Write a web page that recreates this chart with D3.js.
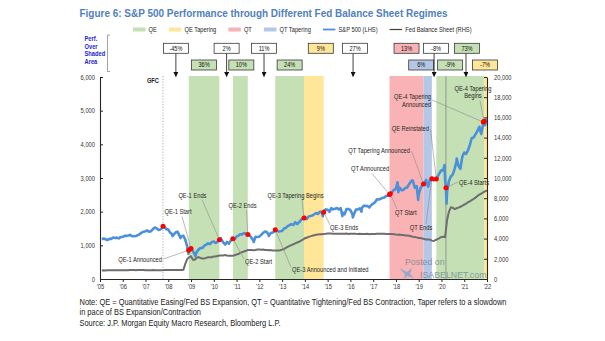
<!DOCTYPE html>
<html>
<head>
<meta charset="utf-8">
<script src="https://cdn.jsdelivr.net/npm/d3@7"></script>
<style>
  html, body { margin: 0; padding: 0; background: #fff; }
  svg { display: block; font-family: "Liberation Sans", Arial, sans-serif; }
</style>
</head>
<body>
<svg id="chart" width="605" height="341"></svg>
<script>
// ---------------- data ----------------
// S&P 500 month-end closes, Jan 2005 – Dec 2021
const spxMonthEnd = [
  1181.27,1203.60,1180.59,1156.85,1191.50,1191.33,1234.18,1220.33,1228.81,1207.01,1249.48,1248.29,
  1280.08,1280.66,1294.83,1310.61,1270.09,1270.20,1276.66,1303.82,1335.85,1377.94,1400.63,1418.30,
  1438.24,1406.82,1420.86,1482.37,1530.62,1503.35,1455.27,1473.99,1526.75,1549.38,1481.14,1468.36,
  1378.55,1330.63,1322.70,1385.59,1400.38,1280.00,1267.38,1282.83,1166.36,968.75,896.24,903.25,
  825.88,735.09,797.87,872.81,919.14,919.32,987.48,1020.62,1057.08,1036.19,1095.63,1115.10,
  1073.87,1104.49,1169.43,1186.69,1089.41,1030.71,1101.60,1049.33,1141.20,1183.26,1180.55,1257.64,
  1286.12,1327.22,1325.83,1363.61,1345.20,1320.64,1292.28,1218.89,1131.42,1253.30,1246.96,1257.60,
  1312.41,1365.68,1408.47,1397.91,1310.33,1362.16,1379.32,1406.58,1440.67,1412.16,1416.18,1426.19,
  1498.11,1514.68,1569.19,1597.57,1630.74,1606.28,1685.73,1632.97,1681.55,1756.54,1805.81,1848.36,
  1782.59,1859.45,1872.34,1883.95,1923.57,1960.23,1930.67,2003.37,1972.29,2018.05,2067.56,2058.90,
  1994.99,2104.50,2067.89,2085.51,2107.39,2063.11,2103.84,1972.18,1920.03,2079.36,2080.41,2043.94,
  1940.24,1932.23,2059.74,2065.30,2096.95,2098.86,2173.60,2170.95,2168.27,2126.15,2198.81,2238.83,
  2278.87,2363.64,2362.72,2384.20,2411.80,2423.41,2470.30,2471.65,2519.36,2575.26,2647.58,2673.61,
  2823.81,2713.83,2640.87,2648.05,2705.27,2718.37,2816.29,2901.52,2913.98,2711.74,2760.17,2506.85,
  2704.10,2784.49,2834.40,2945.83,2752.06,2941.76,2980.38,2926.46,2976.74,3037.56,3140.98,3230.78,
  3225.52,2954.22,2584.59,2912.43,3044.31,3100.29,3271.12,3500.31,3363.00,3269.96,3621.63,3756.07,
  3714.24,3811.15,3972.89,4181.17,4204.11,4297.50,4395.26,4522.68,4307.54,4605.38,4567.00,4766.18
];
// Intra-month closes (peaks, troughs and policy dates)
const spxIntraDates = [
  "2007-10-09","2008-03-10","2008-07-15","2008-11-20","2008-11-25","2009-03-09","2010-04-23","2010-07-02",
  "2010-11-03","2011-10-03","2012-06-01","2012-09-13","2013-12-18","2014-10-15","2014-10-29","2015-08-25",
  "2016-02-11","2016-06-27","2017-09-20","2017-10-02","2018-01-26","2018-02-08","2018-09-20","2018-12-24",
  "2019-03-20","2019-06-03","2019-10-11","2020-02-19","2020-03-13","2020-03-23","2020-09-02","2021-11-03",
  "2021-11-15"
];
const spxIntraValues = [
  1565.15,1273.37,1214.91,752.44,857.39,676.53,1217.28,1022.58,
  1197.96,1099.23,1278.04,1459.99,1810.65,1862.49,1982.30,1867.61,
  1829.08,2000.54,2508.24,2529.12,2872.87,2581.00,2930.75,2351.10,
  2824.23,2744.45,2970.27,3386.15,2711.02,2237.40,3580.84,4660.57,
  4682.80
];
// Fed balance sheet (total assets, $bn), month-end, Jan 2005 – Dec 2021
const fedAssets = [
  849,854,853,858,857,861,860,866,867,868,873,872,
  875,868,876,882,879,879,878,880,880,881,880,874,
  874,876,878,885,877,877,876,875,874,880,885,891,
  888,890,889,889,889,898,903,905,1495,1970,2141,2241,
  1900,1903,2087,2171,2083,2031,2023,2091,2143,2162,2162,2237,
  2230,2279,2324,2339,2337,2367,2330,2310,2292,2304,2347,2423,
  2476,2585,2658,2728,2790,2868,2869,2862,2855,2869,2928,2928,
  2900,2925,2868,2863,2849,2870,2832,2829,2822,2833,2855,2907,
  2970,3077,3188,3282,3361,3440,3528,3617,3687,3802,3891,4033,
  4083,4177,4222,4289,4340,4379,4413,4421,4429,4463,4481,4509,
  4503,4506,4484,4482,4483,4489,4481,4483,4483,4494,4458,4487,
  4491,4489,4470,4467,4478,4458,4464,4464,4476,4442,4454,4451,
  4452,4476,4473,4489,4478,4469,4456,4459,4456,4448,4443,4406,
  4388,4394,4365,4346,4311,4302,4275,4226,4175,4158,4123,4058,
  4048,4004,3962,3923,3920,3903,3799,3761,3862,3951,4054,4166,
  4171,4159,5826,6656,7097,7060,6923,7004,7071,7156,7239,7362,
  7467,7593,7690,7805,7917,8058,8217,8344,8450,8573,8681,8757
];

// Fed balance sheet regimes
const regimeStart = ["2008-11-25","2010-11-03","2012-09-13","2013-12-18","2017-09-20","2019-03-20","2019-10-11","2021-11-15"];
const regimeEnd   = ["2010-03-31","2011-06-30","2013-12-18","2014-10-29","2019-03-20","2019-07-31","2021-11-15","2022-01-01"];
const regimeType  = ["QE","QE","QE","QE Tapering","QT","QT Tapering","QE","QE Tapering"];

// Policy events marked on the S&P 500 line
const eventDates = ["2007-10-09","2008-11-25","2008-12-31","2010-03-31","2010-11-03","2011-06-30","2012-09-13",
  "2013-12-18","2014-10-29","2017-09-20","2017-10-02","2019-03-20","2019-07-31","2019-10-11","2020-03-13",
  "2021-11-03","2021-11-15"];
const eventLabels = ["","QE-1 Announced","QE-1 Start","QE-1 Ends","QE-2 Start","QE-2 Ends",
  "QE-3 Announced and Initiated","QE-3 Tapering Begins","QE-3 Ends","QT Announced","QT Start",
  "QT Tapering Announced","QT Ends","QE Reinstated","QE-4 Starts","QE-4 Tapering|Announced","QE-4 Tapering|Begins"];

// S&P 500 performance over each period
const perfStart = ["2007-10-09","2008-11-25","2010-03-31","2010-11-03","2011-06-30","2012-09-13","2013-12-18",
  "2014-10-29","2017-09-20","2019-03-20","2019-07-31","2019-10-11","2020-03-13","2021-11-15"];
const perfEnd   = ["2008-11-25","2010-03-31","2010-11-03","2011-06-30","2012-09-13","2013-12-18","2014-10-29",
  "2017-09-20","2019-03-20","2019-07-31","2019-10-11","2020-03-13","2021-11-15","2022-01-01"];
const perfText  = ["-45%","36%","2%","10%","11%","24%","9%","27%","13%","6%","-8%","-9%","73%","-7%"];
const perfRegime = ["","QE","","QE","","QE","QE Tapering","","QT","QT Tapering","","QE","QE","QE Tapering"];

const leftTicks = [0,1000,2000,3000,4000,5000,6000];
const rightTicks = [0,2000,4000,6000,8000,10000,12000,14000,16000,18000,20000];
const yearTicks = d3.range(2005, 2023);

// ---------------- layout & style ----------------
const C = {
  "QE": "#c5e0b4", "QE Tapering": "#ffe699", "QT": "#f9b3b4", "QT Tapering": "#b4c7e7",
  spx: "#4a90da", fed: "#6e6e6e", dot: "#ff0000", text: "#262626", leader: "#8c8c8c"
};
const NARROW = 0.82;   // condensed lettering
const parse = d3.timeParse("%Y-%m-%d");
const monthEnd = i => new Date(2005, i + 1, 0);

// squeeze text horizontally to a condensed face
function condense(sel, k) {
  sel.each(function () {
    const w = this.getComputedTextLength();
    this.setAttribute("textLength", (w * k).toFixed(2));
    this.setAttribute("lengthAdjust", "spacingAndGlyphs");
  });
}

const svg = d3.select("#chart");
const x = d3.scaleTime().domain([new Date(2005, 0, 1), new Date(2022, 0, 1)]).range([100, 487]);
const yL = d3.scaleLinear().domain([0, 6000]).range([279, 77]);
const yR = d3.scaleLinear().domain([0, 20000]).range([279, 77]);
const plotTop = yL(6000) - 1, plotBottom = yL(0);

const spx = spxMonthEnd.map((v, i) => ({ date: monthEnd(i), value: v }))
  .concat(spxIntraDates.map((d, i) => ({ date: parse(d), value: spxIntraValues[i] })))
  .sort((a, b) => a.date - b.date);
const fed = fedAssets.map((v, i) => ({ date: monthEnd(i), value: v }));
const spxAt = d => spx.find(p => +p.date === +parse(d)).value;

// ---------------- title ----------------
svg.append("text").attr("x", 79.5).attr("y", 17)
  .attr("font-size", 11.6).attr("font-weight", "bold").attr("fill", "#4f81bd")
  .attr("textLength", 368).attr("lengthAdjust", "spacingAndGlyphs")
  .text("Figure 6: S&P 500 Performance through Different Fed Balance Sheet Regimes");

// ---------------- legend ----------------
const legendItems = [
  { label: "QE", kind: "band", key: "QE" },
  { label: "QE Tapering", kind: "band", key: "QE Tapering" },
  { label: "QT", kind: "band", key: "QT" },
  { label: "QT Tapering", kind: "band", key: "QT Tapering" },
  { label: "S&P 500 (LHS)", kind: "line", color: C.spx },
  { label: "Fed Balance Sheet (RHS)", kind: "line", color: "#404040" }
];
let lx = 133;
const legend = svg.append("g").attr("font-size", 7).attr("fill", C.text);
legendItems.forEach(it => {
  if (it.kind === "band") {
    legend.append("rect").attr("x", lx).attr("y", 27.5).attr("width", 12.5).attr("height", 4).attr("fill", C[it.key]);
  } else {
    legend.append("line").attr("x1", lx).attr("x2", lx + 12.5).attr("y1", 29.5).attr("y2", 29.5)
      .attr("stroke", it.color).attr("stroke-width", it.label.startsWith("S&P") ? 1.8 : 1.2);
  }
  const t = legend.append("text").attr("class", "cn").attr("x", lx + 15.6).attr("y", 32).text(it.label);
  lx += 15.6 + t.node().getComputedTextLength() * NARROW + 12;
});

// ---------------- "Perf. Over Shaded Area" header ----------------
const head = svg.append("g").attr("font-size", 7).attr("font-weight", "bold").attr("fill", "#2525d0");
["Perf.", "Over", "Shaded", "Area"].forEach((w, i) =>
  head.append("text").attr("class", "cn").attr("x", 84.5).attr("y", 40.6 + i * 7.9).text(w));
svg.append("path").attr("d", "M110,35 H107.5 V71.5 H110").attr("fill", "none").attr("stroke", "#8a8a8a").attr("stroke-width", 0.8);

// ---------------- regime bands ----------------
svg.append("g").selectAll("rect").data(regimeType).join("rect")
  .attr("x", (d, i) => x(parse(regimeStart[i])))
  .attr("width", (d, i) => x(parse(regimeEnd[i])) - x(parse(regimeStart[i])))
  .attr("y", plotTop).attr("height", plotBottom - plotTop)
  .attr("fill", d => C[d]);

// GFC marker
const gfcX = x(parse(eventDates[0]));
svg.append("line").attr("x1", gfcX).attr("x2", gfcX).attr("y1", plotTop).attr("y2", plotBottom)
  .attr("stroke", "#9a9a9a").attr("stroke-width", 0.8).attr("stroke-dasharray", "1.2,1.6");
svg.append("text").attr("class", "cn").attr("x", gfcX - 4).attr("y", 82.5).attr("text-anchor", "end")
  .attr("font-size", 7).attr("font-weight", "bold").attr("fill", C.text).text("GFC");

// divider inside QE-4 (start of pandemic-era purchases)
const q4X = x(parse(eventDates[14]));
svg.append("line").attr("x1", q4X).attr("x2", q4X).attr("y1", plotTop).attr("y2", plotBottom)
  .attr("stroke", "#7a7a7a").attr("stroke-width", 0.7);

// ---------------- performance boxes ----------------
const boxNudge = [0, 0, 0.5, 1, 2.5, 0, 7, -1.5, 0, -6.5, 2, 9, 2, -0.5];
const arrowShift = [0, 0, 0, 0, 0, 0, 0, -2, 0, 0, -2, 0, -1, 0];
const perfRow = [1, 2, 1, 2, 1, 2, 1, 1, 1, 2, 1, 2, 1, 2];
const hasArrow = [1, 0, 1, 0, 1, 0, 0, 1, 0, 0, 1, 0, 1, 0];
svg.append("defs").append("marker").attr("id", "arr").attr("viewBox", "0 0 10 10")
  .attr("refX", 9).attr("refY", 5).attr("markerWidth", 5).attr("markerHeight", 5)
  .attr("markerUnits", "userSpaceOnUse").attr("orient", "auto")
  .append("path").attr("d", "M0,0 L10,5 L0,10 z").attr("fill", "#111");
const boxes = svg.append("g");
perfText.forEach((t, i) => {
  const mid = (x(parse(perfStart[i])) + x(parse(perfEnd[i]))) / 2;
  const cx = mid + boxNudge[i];
  const y0 = perfRow[i] === 1 ? 43.3 : 60;
  if (hasArrow[i]) {
    const ax = cx + arrowShift[i];
    boxes.append("line").attr("x1", ax).attr("x2", ax).attr("y1", y0 + 10).attr("y2", 76.5)
      .attr("stroke", "#111").attr("stroke-width", 0.8).attr("marker-end", "url(#arr)");
  }
  boxes.append("rect").attr("x", cx - 12.5).attr("y", y0).attr("width", 25).attr("height", 10)
    .attr("fill", perfRegime[i] ? C[perfRegime[i]] : "#fff").attr("stroke", "#3a3a3a").attr("stroke-width", 0.8);
  boxes.append("text").attr("class", "cn").attr("x", cx).attr("y", y0 + 7.4).attr("text-anchor", "middle")
    .attr("font-size", 6.8).attr("fill", "#111").text(t);
});

// ---------------- lines ----------------
svg.append("path").datum(fed)
  .attr("d", d3.line().x(d => x(d.date)).y(d => yR(d.value)))
  .attr("fill", "none").attr("stroke", C.fed).attr("stroke-width", 2);
svg.append("path").datum(spx)
  .attr("d", d3.line().x(d => x(d.date)).y(d => yL(d.value)))
  .attr("fill", "none").attr("stroke", C.spx).attr("stroke-width", 2.6).attr("stroke-linejoin", "round");

// ---------------- event annotations ----------------
// offsets relative to each event dot: text position and leader-line start
const labelAnchor = ["", "end", "middle", "middle", "start", "middle", "start", "middle", "start",
  "middle", "start", "end", "middle", "end", "start", "end", "middle"];
const labelDx = [0, -26.8, -13, -26.9, 12.1, -5.3, 16.7, -8.5, 6.4, -19.5, 4.7, -13.6, -10.8, -7.3, 13.1, -52.3, -11.1];
const labelDy = [0, 11.4, -34.6, -42.1, 25.8, -27, 41.7, -20.5, 17.7, -23.1, 21.1, -31.4, 51.8, -48.5, -3.2, -23.1, -30.8];
const leadDx = [null, -25.3, -9, -17.4, 11.1, -1.3, 15.7, -2, 6.4, -17.5, 6.7, -12.1, -5.8, -5.8, 12.1, -51.3, -4.1];
const leadDy = [null, 8.9, -32.1, -40.1, 20.3, -24.5, 37.2, -18, 12.7, -21.1, 15.1, -32.9, 45.3, -49.5, -5.7, -22.1, -20.8];

const ann = svg.append("g");
const events = eventDates.map((d, i) => ({ px: x(parse(d)), py: yL(spxAt(d)), i }));
events.forEach(e => {
  if (leadDx[e.i] === null) return;
  ann.append("line").attr("x1", e.px + leadDx[e.i]).attr("y1", e.py + leadDy[e.i])
    .attr("x2", e.px).attr("y2", e.py).attr("stroke", C.leader).attr("stroke-width", 0.6);
});
events.forEach(e => {
  ann.append("circle").attr("cx", e.px).attr("cy", e.py).attr("r", 2.5).attr("fill", C.dot);
});
events.forEach(e => {
  if (!eventLabels[e.i]) return;
  eventLabels[e.i].split("|").forEach((ln, k) => {
    ann.append("text").attr("class", "cn").attr("x", e.px + labelDx[e.i]).attr("y", e.py + labelDy[e.i] + k * 7.7)
      .attr("text-anchor", labelAnchor[e.i]).attr("font-size", 7).attr("fill", C.text).text(ln);
  });
});

// ---------------- axes ----------------
const styleAxis = g => {
  g.attr("font-family", null).attr("font-size", null);
  g.selectAll("path.domain").attr("stroke", "#262626").attr("stroke-width", 1.1);
  g.selectAll(".tick line").attr("stroke", "#262626");
  g.selectAll(".tick text").attr("class", "cn").attr("fill", "#333").attr("font-size", 7);
};
svg.append("g").attr("transform", "translate(100,0)")
  .call(d3.axisLeft(yL).tickValues(leftTicks).tickFormat(d3.format(",")).tickSizeInner(-3).tickSizeOuter(0).tickPadding(5))
  .call(styleAxis);
svg.append("g").attr("transform", "translate(487,0)")
  .call(d3.axisRight(yR).tickValues(rightTicks).tickFormat(d3.format(",")).tickSizeInner(-3).tickSizeOuter(0).tickPadding(7))
  .call(styleAxis);
svg.append("g").attr("transform", `translate(0,${plotBottom})`)
  .call(d3.axisBottom(x).tickValues(yearTicks.map(y => new Date(y, 0, 1))).tickFormat(d3.timeFormat("'%y")).tickSize(3).tickPadding(2.5).tickSizeOuter(0))
  .call(styleAxis);

// ---------------- footnote ----------------
const notes = [
  "Note: QE = Quantitative Easing/Fed BS Expansion, QT = Quantitative Tightening/Fed BS Contraction, Taper refers to a slowdown",
  "in pace of BS Expansion/Contraction",
  "Source: J.P. Morgan Equity Macro Research, Bloomberg L.P."
];
const noteSel = svg.append("g").selectAll("text").data(notes).join("text")
  .attr("x", 79.5).attr("y", (d, i) => 304.5 + i * 10.8)
  .attr("font-size", 8.4).attr("fill", "#1a1a1a").text(d => d);
const noteK = 427 / noteSel.node().getComputedTextLength();
condense(noteSel, noteK);

// condensed lettering for chart labels
condense(svg.selectAll("text.cn"), NARROW);

// ---------------- watermark ----------------
const wm = svg.append("g").attr("fill", "#6d7f95").attr("opacity", 0.75);
wm.append("text").attr("x", 405).attr("y", 264.5).attr("font-size", 8.8).text("Posted on");
wm.append("text").attr("x", 420).attr("y", 278).attr("font-size", 8.8).text("ISABELNET.com");
wm.append("path").attr("d", "M399,268 L407,272 L412,268 L410,274 L414,278 L407,276 L404,280 L405,274 Z")
  .attr("fill", "#6fa8d8");
</script>
</body>
</html>
